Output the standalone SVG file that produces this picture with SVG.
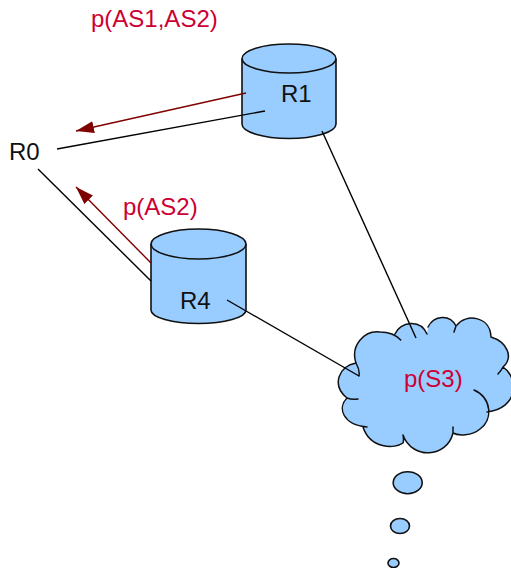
<svg xmlns="http://www.w3.org/2000/svg" width="511" height="568" viewBox="0 0 511 568">
<style>
.s{fill:#99ccff;stroke:#111;stroke-width:1.6}
.o{fill:none;stroke:#111;stroke-width:1.5;stroke-linecap:round}
.n{fill:#99ccff;stroke:none}
.l{stroke:#000;stroke-width:1.4;fill:none}
.a{stroke:#800000;stroke-width:1.4;fill:none;marker-end:url(#h)}
text{font-family:"Liberation Sans",Arial,sans-serif;font-size:24px}
.k{fill:#111}
.r{fill:#cc0033}
</style>
<defs>
<marker id="h" markerUnits="userSpaceOnUse" markerWidth="20" markerHeight="14" refX="18" refY="6" orient="auto"><path d="M0,0L18,6L0,12Z" fill="#800000"/></marker>
</defs>
<rect width="511" height="568" fill="#fff"/>
<g id="R1">
<path class="s" d="M242,59V124A47,14.5 0 0 0 336,124V59"/>
<ellipse class="s" cx="289" cy="58.5" rx="47" ry="14.5"/>
<text class="k" x="281" y="102">R1</text>
</g>
<g id="R4">
<path class="s" d="M151,244V310A47.5,13.5 0 0 0 246,310V244"/>
<ellipse class="s" cx="198.500" cy="244" rx="47.500" ry="15"/>
<text class="k" x="180" y="309">R4</text>
</g>
<g id="R0"><text class="k" x="9" y="160">R0</text></g>
<g id="S3">
<path class="n" d="M356,363C350,345 365,330 380,332C386,332 391,333 395,334C400,322 420,318 427,334L428,327C434,315 450,314 456,326L457,325C465,314 490,315 491,337C507,342 514,357 503,367C519,378 519,408 487,412C490,420 486,426 480,429C472,436 458,436 453,433C447,458 412,460 403,435L403,443C395,449 370,449 363,427L367,427C343,425 337,408 347,398C331,385 339,366 356,363Z"/>
<path class="o" d="M356,363C350,345 365,330 380,332C388,332 396,335 400.700,340M395,334C400,322 420,318 427,334M428,327C434,315 450,314 456,326Q455,329 454,332M457,325C465,314 490,315 491,337M491,337C507,342 514,357 503,367Q501,371 498,374M503,367C519,378 519,408 487,412M474,390C492,398 493,420 480,429C472,436 458,436 453,433Q453,430 453,427M453,433C447,458 412,460 403,435M403,435Q404,440 403,443C395,449 370,449 363,427M367,427C343,425 337,408 347,398Q352,400 358,399M347,398C331,385 339,366 356,363Q360,370 359,376"/>
<text class="r" x="404" y="387">p(S3)</text>
</g>
<g id="bubbles">
<ellipse class="s" cx="407.700" cy="482.700" rx="14.500" ry="11"/>
<ellipse class="s" cx="400" cy="526" rx="9.500" ry="7.500"/>
<ellipse class="s" cx="393.500" cy="563" rx="5.500" ry="4.500"/>
</g>
<g id="connectors">
<path class="l" d="M57,149L265,111"/>
<path class="l" d="M38,169L151,281"/>
<path class="l" d="M322,131L416,338"/>
<path class="l" d="M227,300L359,376"/>
<path class="a" d="M246,93L76,131"/>
<path class="a" d="M151,263L76,187"/>
</g>
<g id="labels">
<text class="r" x="91" y="27">p(AS1,AS2)</text>
<text class="r" x="123" y="215">p(AS2)</text>
</g>
</svg>
